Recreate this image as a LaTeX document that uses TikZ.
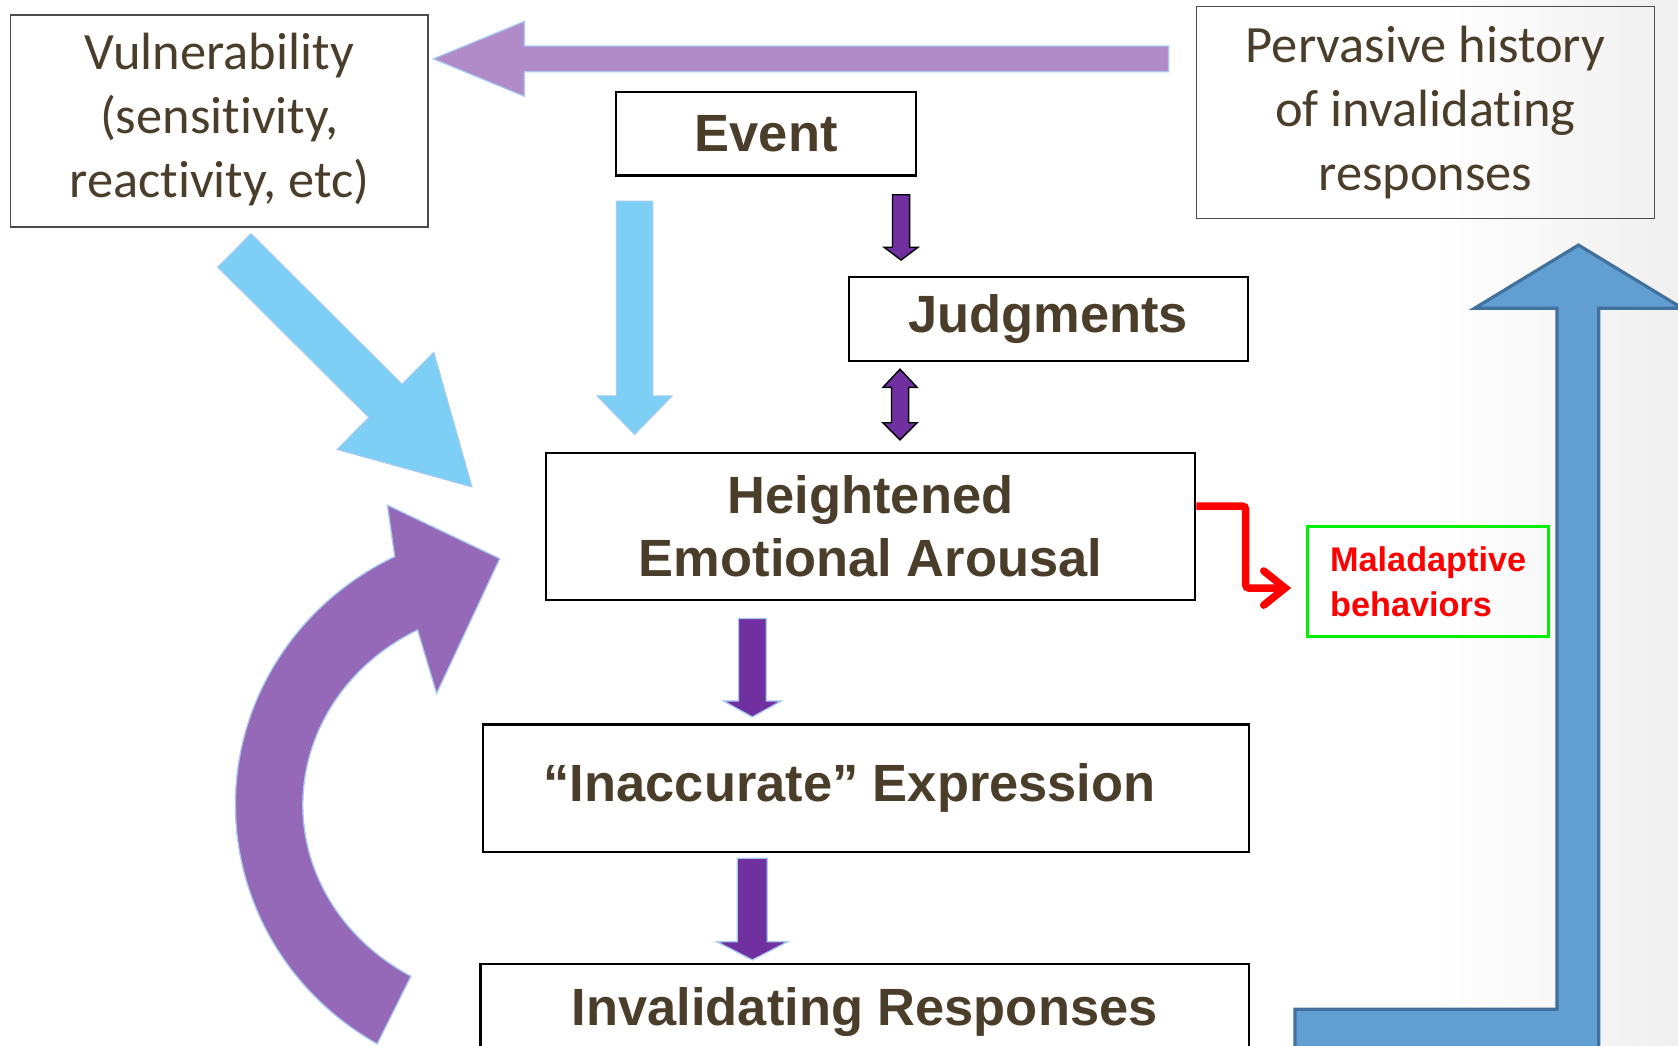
\documentclass[tikz,border=0pt]{standalone}
\usepackage{fontspec}
\setmainfont{Liberation Sans}
\newfontfamily\calib[Ligatures=NoCommon]{Carlito}
\usepackage{tikz}
\usetikzlibrary{arrows.meta,calc,positioning}

\definecolor{txtbrown}{HTML}{4A3E2B}
\definecolor{skyarrow}{HTML}{7DCFF5}
\definecolor{lilac}{HTML}{B08BC8}
\definecolor{loopviolet}{HTML}{9669B8}
\definecolor{edgeblue}{HTML}{A7C9F2}
\definecolor{darkviolet}{HTML}{7030A0}
\definecolor{steel}{HTML}{619FD3}
\definecolor{steeledge}{HTML}{41719C}
\definecolor{maladgreen}{HTML}{00F000}

% block arrow: style, tail, tip, shaft half width, head half width, head length
\newcommand{\blockarrow}[6]{%
  \coordinate (ba) at ($(#3)!#6!(#2)$);
  \path[#1] ($(#2)!#4!90:(#3)$) -- ($(ba)!#4!90:(#3)$) -- ($(ba)!#5!90:(#3)$) -- (#3)
    -- ($(ba)!#5!-90:(#3)$) -- ($(ba)!#4!-90:(#3)$) -- ($(#2)!#4!-90:(#3)$) -- cycle;}

\begin{document}
\begin{tikzpicture}[x=1pt,y=-1pt,
  box/.style={draw=black,line width=2pt,inner sep=0pt,align=center,text=txtbrown,
    font=\bfseries\fontsize{49}{59}\selectfont},
  softbox/.style={draw=black!70,line width=1.2pt,inner sep=0pt,align=center,text=txtbrown,
    font=\calib\fontsize{49}{60}\selectfont},
  thinarrow/.style={fill=darkviolet,draw=black,line width=1.3pt},
  fatarrow/.style={fill=darkviolet,draw=edgeblue,line width=1.2pt},
  skyblock/.style={fill=skyarrow,draw=edgeblue,line width=1pt},
  redline/.style={draw=red,line width=7pt,rounded corners=3pt,
    -{Straight Barb[length=20pt,width=32pt,line cap=round]}}]
\useasboundingbox (0,0) rectangle (1568,977);
\clip (0,0) rectangle (1568,977);
\shade[left color=white,right color=black!6] (1340,0) rectangle (1568,977);

% boxes
\node[softbox,minimum width=390,minimum height=198,text depth=10pt] (vuln) at (205,113)
  {Vulnerability\\(sensitivity,\\reactivity, etc)};
\node[softbox,minimum width=428,minimum height=198] (perv) at (1332,105)
  {Pervasive history\\of invalidating\\responses};
\node[box,minimum width=280,minimum height=78] (event) at (716,125) {Event};
\node[box,minimum width=373,minimum height=78] (judg) at (979.5,298) {Judgments};
\node[box,minimum width=607,minimum height=138] (arousal) at (813.5,492)
  {Heightened\\Emotional Arousal};
\node[box,minimum width=716,minimum height=119] (express) at (809,736.5)
  {\textquotedblleft Inaccurate\textquotedblright{} Expression\hspace*{30pt}};
\node[box,minimum width=718,minimum height=90] (invalid) at (808,946)
  {Invalidating Responses};
\node[draw=maladgreen,line width=3pt,minimum width=225,minimum height=103,inner sep=0pt,
  align=left,text=red,font=\bfseries\fontsize{32}{42}\selectfont] (malad) at (1334.5,543.5)
  {Maladaptive\\behaviors};

% big arrows
\coordinate (lilactail) at (1092,55);
\coordinate (lilactip) at (405,55);
\blockarrow{fill=lilac,draw=edgeblue,line width=1.2pt}{lilactail}{lilactip}{12pt}{35pt}{85pt}
\coordinate (skytail) at (593,188);
\coordinate (skytip) at (593,406);
\blockarrow{skyblock}{skytail}{skytip}{17pt}{35pt}{36pt}
\coordinate (diagtail) at (219,234);
\coordinate (diagtip) at (441,455);
\blockarrow{skyblock}{diagtail}{diagtip}{22pt}{64pt}{114pt}

\coordinate (loopc) at (485,752);
\filldraw[fill=loopviolet,draw=edgeblue,line width=1.2pt]
  ($(loopc)+(240:265pt and 258pt)$) arc[start angle=240,end angle=116,x radius=265pt,y radius=258pt]
  -- (362,472) -- (467,522) -- (408,648)
  -- ($(loopc)+(118:202pt and 185pt)$) arc[start angle=118,end angle=240,x radius=202pt,y radius=185pt]
  -- cycle;

\filldraw[fill=steel,draw=steeledge,line width=3pt]
  (1210,995) -- (1210,943) -- (1455,943) -- (1455,288) -- (1378,288) -- (1475,229)
  -- (1572,288) -- (1494,288) -- (1494,995) -- cycle;

% small arrows
\coordinate (ej1) at (842,182);
\coordinate (ej2) at (842,243);
\blockarrow{thinarrow}{ej1}{ej2}{8pt}{16pt}{12pt}
\filldraw[thinarrow] (841,345) -- (857,362) -- (849,362) -- (849,395) -- (857,395) -- (841,411)
  -- (825,395) -- (833,395) -- (833,362) -- (825,362) -- cycle;
\coordinate (ae1) at (703,578);
\coordinate (ae2) at (703,670);
\blockarrow{fatarrow}{ae1}{ae2}{13pt}{27pt}{15pt}
\coordinate (ei1) at (703,802);
\coordinate (ei2) at (703,897);
\blockarrow{fatarrow}{ei1}{ei2}{14pt}{33pt}{17pt}

\draw[redline] ([yshift=19pt]arousal.east) -- ++(46,0) |- ([xshift=-14pt,yshift=-6pt]malad.west);
\end{tikzpicture}
\end{document}
